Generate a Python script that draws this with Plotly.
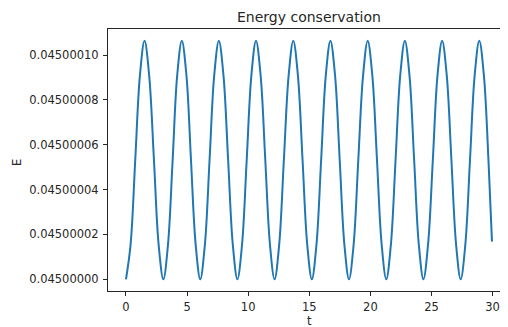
import plotly.graph_objects as go

# Values
t = [0.00, 0.38, 0.76, 1.14, 1.52, 1.90, 2.29, 2.67,
     3.06, 3.44, 3.82, 4.19, 4.57, 4.95, 5.32, 5.70,
     6.08, 6.46, 6.84, 7.22, 7.60, 7.98, 8.36, 8.74,
     9.12, 9.50, 9.88, 10.26, 10.64, 11.02, 11.40, 11.78,
     12.16, 12.54, 12.92, 13.31, 13.69, 14.07, 14.45, 14.83,
     15.21, 15.59, 15.97, 16.35, 16.73, 17.11, 17.49, 17.87,
     18.25, 18.63, 19.01, 19.40, 19.78, 20.16, 20.54, 20.92,
     21.30, 21.68, 22.06, 22.44, 22.82, 23.20, 23.58, 23.96,
     24.34, 24.72, 25.11, 25.49, 25.87, 26.25, 26.63, 27.01,
     27.39, 27.77, 28.15, 28.53, 28.91, 29.29, 29.67, 29.95]

E = [0.0450000000, 0.0450000156, 0.0450000532, 0.0450000908, 0.0450001064, 0.0450000908, 0.0450000532, 0.0450000156,
     0.0450000000, 0.0450000156, 0.0450000532, 0.0450000908, 0.0450001064, 0.0450000908, 0.0450000532, 0.0450000156,
     0.0450000000, 0.0450000156, 0.0450000532, 0.0450000908, 0.0450001064, 0.0450000908, 0.0450000532, 0.0450000156,
     0.0450000000, 0.0450000156, 0.0450000532, 0.0450000908, 0.0450001064, 0.0450000908, 0.0450000532, 0.0450000156,
     0.0450000000, 0.0450000156, 0.0450000532, 0.0450000908, 0.0450001064, 0.0450000908, 0.0450000532, 0.0450000156,
     0.0450000000, 0.0450000156, 0.0450000532, 0.0450000908, 0.0450001064, 0.0450000908, 0.0450000532, 0.0450000156,
     0.0450000000, 0.0450000156, 0.0450000532, 0.0450000908, 0.0450001064, 0.0450000908, 0.0450000532, 0.0450000156,
     0.0450000000, 0.0450000156, 0.0450000532, 0.0450000908, 0.0450001064, 0.0450000908, 0.0450000532, 0.0450000156,
     0.0450000000, 0.0450000156, 0.0450000532, 0.0450000908, 0.0450001064, 0.0450000908, 0.0450000532, 0.0450000156,
     0.0450000000, 0.0450000156, 0.0450000532, 0.0450000908, 0.0450001064, 0.0450000908, 0.0450000520, 0.0450000168]

x_ticks = [0, 5, 10, 15, 20, 25, 30]
y_ticks = [0.04500000, 0.04500002, 0.04500004, 0.04500006, 0.04500008, 0.04500010]
y_labels = ["0.04500000", "0.04500002", "0.04500004", "0.04500006", "0.04500008", "0.04500010"]

title_text = "Energy conservation"
x_label = "t"
y_label = "E"

font = "DejaVu Sans"
ink = "#262626"

fig = go.Figure()
fig.add_trace(go.Scatter(x=t, y=E, mode="lines",
                         line=dict(color="#1f77b4", width=2, shape="spline", smoothing=1.0),
                         showlegend=False, hoverinfo="skip"))

# page has an 8px body margin, so the figure is 8px smaller than the window
fig.update_layout(
    width=500, height=319,
    margin=dict(l=100, r=0, t=21, b=36),
    paper_bgcolor="white", plot_bgcolor="white",
    font=dict(family=font, size=11.5, color=ink),
    xaxis=dict(range=[-1.47, 31.26], tickvals=x_ticks, ticktext=[str(v) for v in x_ticks],
               showgrid=False, zeroline=False, showline=True, linecolor=ink, linewidth=1,
               mirror=True, ticks="outside", ticklen=4, tickcolor=ink, tickwidth=1,
               ticklabelstandoff=1,
               tickfont=dict(size=11.5, family=font, color=ink)),
    yaxis=dict(range=[0.045 - 0.522e-8, 0.045 + 1.1159e-7], tickvals=y_ticks, ticktext=y_labels,
               showgrid=False, zeroline=False, showline=True, linecolor=ink, linewidth=1,
               mirror=False, ticks="outside", ticklen=4, tickcolor=ink, tickwidth=1,
               ticklabelstandoff=2,
               tickfont=dict(size=11.5, family=font, color=ink)),
    annotations=[
        dict(text=title_text, xref="paper", yref="paper", x=0.5025, y=1.0458,
             xanchor="center", yanchor="middle", showarrow=False,
             font=dict(size=14, family=font, color=ink)),
        dict(text=x_label, xref="paper", yref="paper", x=0.5025, y=-0.079,
             xanchor="center", yanchor="top", showarrow=False,
             font=dict(size=11.5, family=font, color=ink)),
        dict(text=y_label, xref="paper", yref="paper", x=-0.2275, y=0.4885,
             xanchor="center", yanchor="middle", showarrow=False, textangle=-90,
             font=dict(size=11.5, family=font, color=ink)),
    ],
)

fig.write_html("out.html")
